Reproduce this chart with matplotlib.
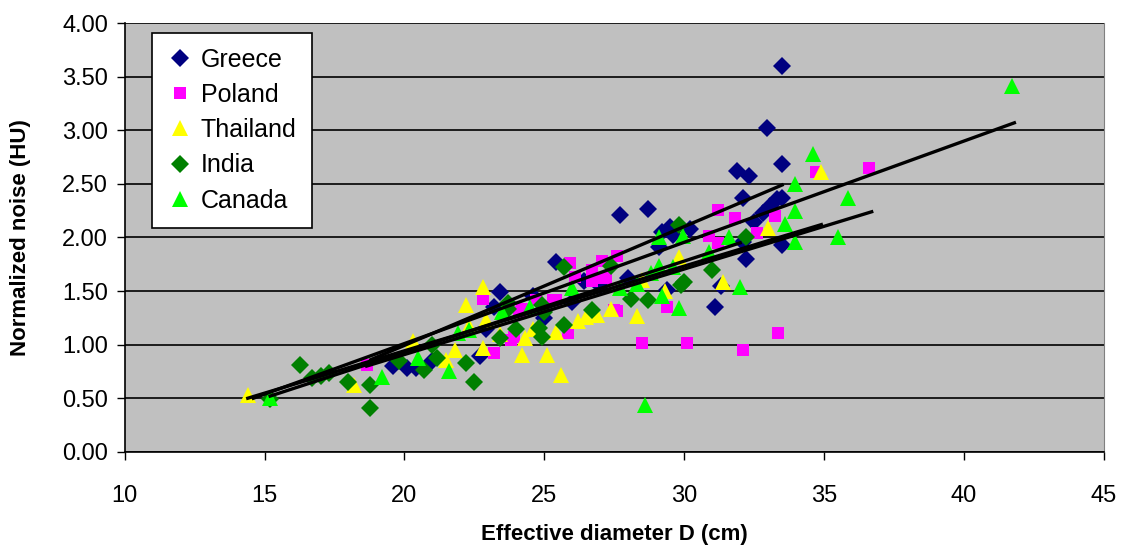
import matplotlib
matplotlib.use('Agg')
import matplotlib.pyplot as plt
import numpy as np

# data (x = effective diameter cm, y = normalized noise HU)
greece_x = [19.6, 20.1, 20.4, 21.0, 22.7, 22.9, 23.2, 23.4, 24.6, 25.0, 25.4, 26.0, 26.4, 27.0,
            27.7, 28.0, 28.7, 29.1, 29.2, 29.4, 29.5, 29.6, 30.2, 31.1, 31.3, 31.9, 32.1, 32.1,
            32.2, 32.3, 32.5, 32.8, 32.95, 33.06, 33.3, 33.5, 33.5, 33.5, 33.5]
greece_y = [0.80, 0.78, 0.78, 0.85, 0.89, 1.15, 1.35, 1.49, 1.45, 1.25, 1.77, 1.40, 1.59, 1.55,
            2.21, 1.62, 2.27, 1.91, 2.05, 1.51, 2.10, 2.02, 2.08, 1.35, 1.55, 2.62, 2.37, 1.96,
            1.80, 2.57, 2.14, 2.23, 3.02, 2.29, 2.36, 3.60, 2.69, 2.37, 1.93]

poland_x = [18.65, 22.8, 23.2, 23.8, 23.9, 24.1, 24.2, 24.7, 25.3, 25.4, 25.85, 25.9, 26.1, 26.7,
            26.7, 26.9, 27.05, 27.2, 27.5, 27.6, 27.6, 28.5, 29.4, 30.1, 30.9, 31.2, 31.2, 31.8,
            32.1, 32.6, 33.24, 33.35, 34.7, 36.6]
poland_y = [0.81, 1.43, 0.92, 1.04, 1.07, 1.30, 1.33, 1.42, 1.42, 1.42, 1.11, 1.76, 1.63, 1.70,
            1.59, 1.62, 1.78, 1.62, 1.32, 1.83, 1.31, 1.02, 1.35, 1.02, 2.01, 2.26, 1.95, 2.18,
            0.95, 2.04, 2.20, 1.11, 2.61, 2.65]

thailand_x = [14.4, 18.2, 20.3, 21.5, 21.8, 22.2, 22.3, 22.8, 22.8, 22.9, 23.4, 24.2, 24.3, 24.6,
              25.1, 25.4, 25.6, 26.2, 26.5, 26.9, 27.4, 28.3, 28.5, 29.3, 29.8, 31.4, 33.0, 34.9]
thailand_y = [0.53, 0.62, 1.03, 0.86, 0.95, 1.37, 1.17, 1.54, 0.97, 1.23, 1.10, 0.90, 1.06, 1.15,
              0.90, 1.12, 0.72, 1.22, 1.26, 1.28, 1.33, 1.27, 1.60, 1.50, 1.82, 1.58, 2.09, 2.61]

india_x = [15.2, 16.26, 16.7, 17.0, 17.3, 18.0, 18.76, 18.76, 19.8, 20.7, 21.0, 21.15, 22.2, 22.5,
           23.4, 23.7, 23.7, 24.0, 24.8, 24.9, 24.9, 25.0, 25.7, 25.7, 26.7, 27.4, 28.1, 28.7,
           29.8, 29.9, 30.0, 31.0, 32.2]
india_y = [0.49, 0.81, 0.69, 0.71, 0.74, 0.65, 0.62, 0.41, 0.85, 0.76, 1.00, 0.88, 0.83, 0.65,
           1.06, 1.39, 1.33, 1.15, 1.16, 1.37, 1.07, 1.30, 1.72, 1.18, 1.32, 1.73, 1.43, 1.42,
           2.12, 1.56, 1.58, 1.70, 2.00]

canada_x = [15.2, 19.2, 20.5, 21.6, 21.9, 22.3, 23.5, 24.5, 26.0, 27.7, 28.3, 28.6, 28.8, 29.1,
            29.1, 29.2, 29.6, 29.8, 29.95, 30.9, 31.6, 32.0, 33.6, 33.95, 33.95, 33.95, 34.6,
            35.5, 35.85, 41.7]
canada_y = [0.50, 0.70, 0.88, 0.75, 1.11, 1.14, 1.30, 1.35, 1.53, 1.53, 1.57, 0.44, 1.67, 1.73,
            2.00, 1.45, 1.72, 1.34, 2.01, 1.86, 2.00, 1.54, 2.13, 2.50, 2.25, 1.96, 2.78,
            2.00, 2.37, 3.41]

# trend lines: (x start, x end, y start, y end)
trend_x0 = [18.8, 18.65, 14.4, 15.2, 14.6]
trend_x1 = [33.5, 36.7, 34.9, 32.0, 41.8]
trend_y0 = [0.86, 0.80, 0.50, 0.52, 0.50]
trend_y1 = [2.49, 2.24, 2.12, 1.95, 3.07]

plt.rcParams['font.family'] = ['Liberation Sans', 'DejaVu Sans']

fig = plt.figure(figsize=(11.23, 5.51), dpi=100)
ax = fig.add_axes([0.111, 0.18, 0.872, 0.778])
ax.set_facecolor('#C0C0C0')

series = [
    ('Greece', greece_x, greece_y, 'D', '#000080', 9),
    ('Poland', poland_x, poland_y, 's', '#FF00FF', 9),
    ('Thailand', thailand_x, thailand_y, '^', '#FFFF00', 11),
    ('India', india_x, india_y, 'D', '#008000', 9),
    ('Canada', canada_x, canada_y, '^', '#00FF00', 11),
]
for name, xs, ys, mk, col, ms in series:
    ax.plot(xs, ys, linestyle='none', marker=mk, color=col, markersize=ms,
            markeredgewidth=0, label=name, zorder=3)

for x0, x1, y0, y1 in zip(trend_x0, trend_x1, trend_y0, trend_y1):
    ax.plot([x0, x1], [y0, y1], color='black', linewidth=2.4, zorder=4)

ax.set_xlim(10, 45)
ax.set_ylim(0, 4)
ax.set_xticks(np.arange(10, 46, 5))
ax.set_yticks(np.arange(0, 4.01, 0.5))
ax.set_yticklabels(['%.2f' % v for v in np.arange(0, 4.01, 0.5)])
ax.yaxis.grid(True, color='black', linewidth=1.2)
ax.set_axisbelow(True)
ax.tick_params(axis='both', direction='out', length=6, width=1, labelsize=17, colors='black')
ax.tick_params(axis='x', pad=18)
ax.tick_params(axis='y', pad=6)
for s in ['left', 'bottom']:
    ax.spines[s].set_color('black')
    ax.spines[s].set_linewidth(1.2)
ax.spines['top'].set_visible(False)
ax.spines['right'].set_color('#808080')

ax.set_xlabel('Effective diameter D (cm)', fontsize=16, fontweight='bold')
ax.set_ylabel('Normalized noise (HU)', fontsize=16, fontweight='bold')
ax.xaxis.set_label_coords(0.5, -0.168)
ax.yaxis.set_label_coords(-0.096, 0.5)

leg = ax.legend(loc='upper left', bbox_to_anchor=(0.028, 0.978), fontsize=18,
                frameon=True, fancybox=False, edgecolor='black', facecolor='white',
                framealpha=1, handlelength=1.0, handletextpad=0.35, borderpad=0.6,
                labelspacing=0.45, borderaxespad=0)
leg.get_frame().set_linewidth(1.2)

fig.savefig('out.png', dpi=100, facecolor='white')
